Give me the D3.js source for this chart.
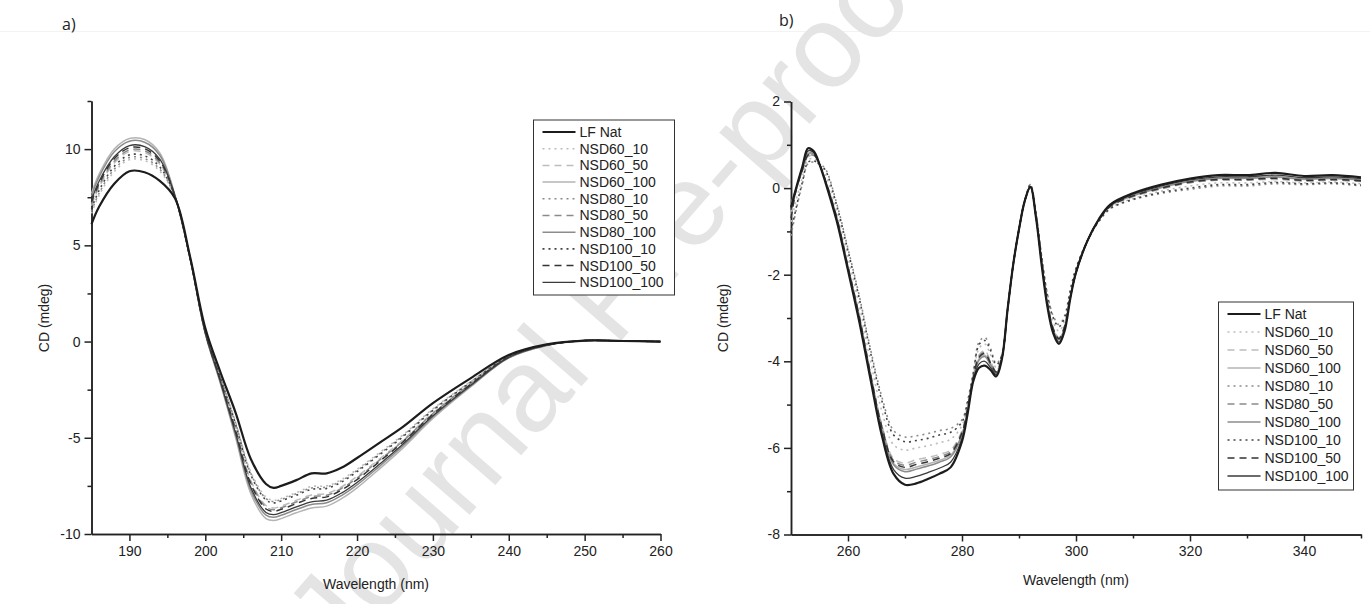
<!DOCTYPE html>
<html>
<head>
<meta charset="utf-8">
<script src="https://cdn.jsdelivr.net/npm/d3@7"></script>
<style>
  html, body { margin: 0; padding: 0; background: #fff; }
  svg { display: block; }
  text { font-family: "Liberation Sans", Arial, sans-serif; fill: #222; }
</style>
</head>
<body>
<svg id="chart" width="1370" height="604"></svg>
<script>
// ─────────────────────────────────────────────────────────────
//  Far-UV (a) and near-UV (b) CD spectra, LF native vs NSD treatments.
//  Values.
// ─────────────────────────────────────────────────────────────

const SERIES = ['LF Nat', 'NSD60_10', 'NSD60_50', 'NSD60_100', 'NSD80_10', 'NSD80_50',
  'NSD80_100', 'NSD100_10', 'NSD100_50', 'NSD100_100'];

// ---- panel a: far-UV ----
const WL_A = [185, 186, 188, 190, 192, 194, 196, 198, 200, 202, 204, 206, 208, 209, 210,
  212, 214, 216, 218, 220, 223, 226, 230, 235, 240, 245, 250, 255, 260];

const LF_NAT_A = [6.1, 7.0, 8.2, 8.85, 8.8, 8.35, 7.45, 4.4, 0.7, -1.6, -3.7, -6.1, -7.4, -7.6, -7.5,
  -7.2, -6.85, -6.85, -6.55, -6.05, -5.25, -4.45, -3.2, -1.9, -0.7, -0.15, 0.05, 0.03, 0.0];
const NSD60_10_A = [6.66, 7.6, 8.83, 9.45, 9.4, 8.86, 7.5, 4.36, 0.59, -1.83, -4.19, -6.78, -8.08, -8.25, -8.15,
  -7.85, -7.53, -7.5, -7.16, -6.64, -5.76, -4.87, -3.5, -2.07, -0.76, -0.17, 0.05, 0.03, 0.0];
const NSD60_50_A = [7.06, 8.02, 9.28, 9.87, 9.82, 9.22, 7.54, 4.34, 0.51, -1.97, -4.51, -7.22, -8.52, -8.65, -8.55,
  -8.25, -7.97, -7.9, -7.54, -7.01, -6.09, -5.13, -3.7, -2.18, -0.79, -0.18, 0.05, 0.03, 0.0];
const NSD60_100_A = [7.7, 8.7, 10.0, 10.55, 10.5, 9.8, 7.6, 4.3, 0.4, -2.2, -5.0, -7.9, -9.2, -9.3, -9.2,
  -8.9, -8.65, -8.55, -8.15, -7.6, -6.6, -5.55, -4.0, -2.35, -0.85, -0.2, 0.05, 0.03, 0.0];
const NSD80_10_A = [6.77, 7.71, 8.96, 9.56, 9.51, 8.96, 7.51, 4.36, 0.57, -1.85, -4.25, -6.86, -8.16, -8.31, -8.21,
  -7.91, -7.61, -7.56, -7.22, -6.7, -5.82, -4.91, -3.54, -2.09, -0.76, -0.17, 0.05, 0.03, 0.0];
const NSD80_50_A = [7.14, 8.11, 9.37, 9.96, 9.91, 9.29, 7.55, 4.33, 0.5, -2.0, -4.57, -7.31, -8.61, -8.74, -8.64,
  -8.34, -8.06, -7.99, -7.62, -7.09, -6.15, -5.19, -3.74, -2.2, -0.8, -0.18, 0.05, 0.03, 0.0];
const NSD80_100_A = [7.57, 8.56, 9.86, 10.41, 10.36, 9.68, 7.59, 4.31, 0.43, -2.14, -4.87, -7.72, -9.02, -9.13, -9.03,
  -8.73, -8.47, -8.38, -7.99, -7.45, -6.47, -5.44, -3.92, -2.31, -0.84, -0.2, 0.05, 0.03, 0.0];
const NSD100_10_A = [6.9, 7.85, 9.1, 9.7, 9.65, 9.08, 7.53, 4.35, 0.56, -1.88, -4.3, -6.93, -8.23, -8.38, -8.28,
  -7.98, -7.68, -7.63, -7.29, -6.76, -5.87, -4.96, -3.57, -2.11, -0.77, -0.17, 0.05, 0.03, 0.0];
const NSD100_50_A = [7.25, 8.22, 9.5, 10.07, 10.02, 9.39, 7.56, 4.33, 0.48, -2.03, -4.64, -7.4, -8.7, -8.82, -8.72,
  -8.42, -8.15, -8.07, -7.7, -7.17, -6.22, -5.24, -3.78, -2.22, -0.81, -0.19, 0.05, 0.03, 0.0];
const NSD100_100_A = [7.35, 8.33, 9.6, 10.18, 10.13, 9.48, 7.57, 4.32, 0.45, -2.09, -4.77, -7.58, -8.88, -8.99, -8.89,
  -8.59, -8.33, -8.24, -7.86, -7.32, -6.36, -5.35, -3.86, -2.27, -0.82, -0.19, 0.05, 0.03, 0.0];

// ---- panel b: near-UV ----
const WL_B = [250, 251, 252, 253, 254, 255, 256, 258, 260, 262, 264, 266, 268, 270, 272, 274, 276, 278, 280,
  281, 282, 283, 284, 285, 286, 287, 288, 289, 290, 291, 292, 293, 294, 295, 296, 297, 298, 299,
  300, 302, 304, 306, 310, 315, 320, 325, 330, 335, 340, 345, 350];

const LF_NAT_B = [-0.45, 0.05, 0.5, 0.92, 0.85, 0.55, 0.15, -0.75, -1.9, -3.1, -4.45, -5.75, -6.6, -6.85, -6.82, -6.72, -6.6, -6.45, -5.85,
  -5.2, -4.45, -4.15, -4.1, -4.2, -4.35, -3.95, -2.8, -1.75, -0.95, -0.3, 0.03, -0.7, -1.8, -2.75, -3.35, -3.6, -3.3, -2.55,
  -1.95, -1.22, -0.72, -0.38, -0.12, 0.08, 0.22, 0.3, 0.3, 0.35, 0.28, 0.3, 0.25];
const NSD60_10_B = [-0.78, -0.23, 0.25, 0.65, 0.68, 0.55, 0.33, -0.5, -1.6, -2.73, -4.03, -5.18, -5.93, -6.05, -6.0, -5.95, -5.88, -5.8, -5.48,
  -4.98, -4.3, -3.7, -3.6, -3.85, -4.14, -3.88, -2.8, -1.75, -0.95, -0.3, 0.06, -0.63, -1.65, -2.55, -3.09, -3.3, -3.07, -2.43,
  -1.9, -1.22, -0.76, -0.46, -0.24, -0.07, 0.05, 0.12, 0.12, 0.15, 0.12, 0.14, 0.1];
const NSD60_50_B = [-0.6, 0.0, 0.4, 0.72, 0.75, 0.55, 0.2, -0.65, -1.8, -2.95, -4.3, -5.5, -6.25, -6.35, -6.27, -6.22, -6.15, -6.05, -5.6,
  -5.05, -4.35, -3.85, -3.75, -4.0, -4.23, -3.9, -2.8, -1.75, -0.95, -0.3, 0.03, -0.65, -1.7, -2.65, -3.23, -3.45, -3.18, -2.5,
  -1.95, -1.22, -0.74, -0.43, -0.2, -0.02, 0.12, 0.18, 0.18, 0.2, 0.16, 0.18, 0.15];
const NSD60_100_B = [-0.55, 0.02, 0.43, 0.78, 0.78, 0.55, 0.19, -0.68, -1.83, -3.0, -4.35, -5.58, -6.36, -6.5, -6.44, -6.37, -6.29, -6.17, -5.68,
  -5.1, -4.38, -3.94, -3.86, -4.06, -4.27, -3.92, -2.8, -1.75, -0.95, -0.3, 0.03, -0.67, -1.73, -2.68, -3.27, -3.5, -3.22, -2.52,
  -1.95, -1.22, -0.73, -0.42, -0.18, 0.01, 0.15, 0.22, 0.22, 0.25, 0.2, 0.22, 0.18];
const NSD80_10_B = [-1.1, -0.45, 0.1, 0.57, 0.6, 0.55, 0.45, -0.35, -1.4, -2.5, -3.75, -4.85, -5.6, -5.75, -5.72, -5.67, -5.6, -5.55, -5.35,
  -4.9, -4.25, -3.55, -3.45, -3.7, -4.05, -3.85, -2.8, -1.75, -0.95, -0.3, 0.08, -0.6, -1.6, -2.45, -2.95, -3.15, -2.95, -2.35,
  -1.85, -1.22, -0.77, -0.48, -0.27, -0.12, -0.03, 0.05, 0.05, 0.1, 0.08, 0.1, 0.05];
const NSD80_50_B = [-0.5, 0.0, 0.41, 0.74, 0.76, 0.55, 0.2, -0.66, -1.81, -2.97, -4.32, -5.53, -6.29, -6.4, -6.33, -6.27, -6.2, -6.09, -5.63,
  -5.07, -4.36, -3.88, -3.79, -4.02, -4.24, -3.91, -2.8, -1.75, -0.95, -0.3, 0.03, -0.66, -1.71, -2.66, -3.24, -3.47, -3.19, -2.51,
  -1.95, -1.22, -0.74, -0.42, -0.19, -0.01, 0.13, 0.19, 0.19, 0.22, 0.17, 0.19, 0.16];
const NSD80_100_B = [-0.35, 0.02, 0.44, 0.8, 0.79, 0.55, 0.18, -0.69, -1.84, -3.01, -4.36, -5.6, -6.39, -6.55, -6.49, -6.42, -6.33, -6.21, -5.7,
  -5.11, -4.39, -3.97, -3.89, -4.08, -4.28, -3.92, -2.8, -1.75, -0.95, -0.3, 0.03, -0.67, -1.74, -2.69, -3.28, -3.51, -3.23, -2.52,
  -1.95, -1.22, -0.73, -0.41, -0.17, 0.02, 0.16, 0.23, 0.23, 0.26, 0.21, 0.23, 0.19];
const NSD100_10_B = [-1.0, -0.4, 0.14, 0.6, 0.63, 0.55, 0.42, -0.39, -1.45, -2.56, -3.82, -4.94, -5.7, -5.86, -5.83, -5.78, -5.7, -5.64, -5.4,
  -4.93, -4.27, -3.61, -3.52, -3.75, -4.08, -3.86, -2.8, -1.75, -0.95, -0.3, 0.08, -0.61, -1.62, -2.48, -2.99, -3.2, -2.99, -2.37,
  -1.86, -1.22, -0.77, -0.47, -0.26, -0.1, 0.0, 0.08, 0.08, 0.13, 0.1, 0.12, 0.07];
const NSD100_50_B = [-0.7, 0.01, 0.42, 0.76, 0.77, 0.55, 0.19, -0.67, -1.82, -2.98, -4.33, -5.55, -6.32, -6.45, -6.38, -6.32, -6.24, -6.13, -5.65,
  -5.08, -4.37, -3.91, -3.82, -4.04, -4.25, -3.91, -2.8, -1.75, -0.95, -0.3, 0.03, -0.66, -1.72, -2.67, -3.25, -3.48, -3.2, -2.51,
  -1.95, -1.22, -0.74, -0.42, -0.18, 0.0, 0.14, 0.2, 0.2, 0.23, 0.18, 0.2, 0.17];
const NSD100_100_B = [-0.5, 0.04, 0.47, 0.86, 0.82, 0.55, 0.17, -0.72, -1.87, -3.06, -4.41, -5.68, -6.5, -6.7, -6.66, -6.57, -6.47, -6.33, -5.78,
  -5.16, -4.42, -4.06, -4.0, -4.14, -4.31, -3.94, -2.8, -1.75, -0.95, -0.3, 0.03, -0.69, -1.77, -2.72, -3.31, -3.56, -3.26, -2.54,
  -1.95, -1.22, -0.73, -0.4, -0.14, 0.05, 0.19, 0.26, 0.26, 0.3, 0.24, 0.26, 0.22];

const VALUES_A = [LF_NAT_A, NSD60_10_A, NSD60_50_A, NSD60_100_A, NSD80_10_A, NSD80_50_A, NSD80_100_A, NSD100_10_A, NSD100_50_A, NSD100_100_A];
const VALUES_B = [LF_NAT_B, NSD60_10_B, NSD60_50_B, NSD60_100_B, NSD80_10_B, NSD80_50_B, NSD80_100_B, NSD100_10_B, NSD100_50_B, NSD100_100_B];

// line look per series: grey level by temperature, dash by dose
const STYLE = {
  'LF Nat':     { color: '#1c1c1c', width: 2.2, dash: null },
  'NSD60_10':   { color: '#bdbdbd', width: 1.6, dash: '2,4' },
  'NSD60_50':   { color: '#bdbdbd', width: 1.5, dash: '7,5' },
  'NSD60_100':  { color: '#b4b4b4', width: 1.5, dash: null },
  'NSD80_10':   { color: '#8a8a8a', width: 1.6, dash: '2,4' },
  'NSD80_50':   { color: '#8a8a8a', width: 1.5, dash: '7,5' },
  'NSD80_100':  { color: '#8c8c8c', width: 1.5, dash: null },
  'NSD100_10':  { color: '#444444', width: 1.6, dash: '2,4' },
  'NSD100_50':  { color: '#333333', width: 1.5, dash: '7,5' },
  'NSD100_100': { color: '#3a3a3a', width: 1.3, dash: null },
};

const svg = d3.select('#chart');

// watermark + faint page edge, behind everything
svg.append('line').attr('x1', 0).attr('x2', 1370).attr('y1', 31.5).attr('y2', 31.5)
  .attr('stroke', '#f3f3f3').attr('stroke-width', 1);
svg.append('text')
  .attr('transform', 'translate(615,300) rotate(-49)')
  .attr('text-anchor', 'middle').attr('dominant-baseline', 'middle')
  .style('font-size', '118px').style('fill', '#e4e4e4')
  .text('Journal Pre-proof');

function panel(opt) {
  const { x, y } = opt;
  const g = svg.append('g');

  // axes: major + minor ticks pointing out, no box
  const fmt = (d) => String(d);
  const xMajor = d3.axisBottom(x).tickValues(opt.xMajor).tickFormat(fmt).tickSize(7).tickSizeOuter(0).tickPadding(5);
  const xMinor = d3.axisBottom(x).tickValues(opt.xMinor).tickFormat('').tickSize(4).tickSizeOuter(0);
  const yMajor = d3.axisLeft(y).tickValues(opt.yMajor).tickFormat(fmt).tickSize(7).tickSizeOuter(0).tickPadding(4);
  const yMinor = d3.axisLeft(y).tickValues(opt.yMinor).tickFormat('').tickSize(4).tickSizeOuter(0);

  const y0 = y.range()[0], x0 = x.range()[0];
  [[xMajor, `translate(0,${y0})`], [xMinor, `translate(0,${y0})`],
   [yMajor, `translate(${x0},0)`], [yMinor, `translate(${x0},0)`]].forEach(([ax, tr]) => {
    const a = g.append('g').attr('transform', tr).call(ax);
    a.selectAll('path.domain').attr('stroke', '#222').attr('stroke-width', 1.5);
    a.selectAll('.tick line').attr('stroke', '#222').attr('stroke-width', 1.5);
    a.selectAll('.tick text').style('font-size', '14px').style('font-family', '"Liberation Sans", Arial, sans-serif').attr('fill', '#222');
  });

  // spectra — treatments first, native on top
  const line = d3.line().x((d) => x(d[0])).y((d) => y(d[1])).curve(d3.curveCatmullRom.alpha(0.5));
  const order = SERIES.slice(1).concat(SERIES[0]);
  order.forEach((name) => {
    const vals = opt.values[SERIES.indexOf(name)];
    const s = STYLE[name];
    g.append('path')
      .datum(opt.wl.map((w, i) => [w, vals[i]]))
      .attr('d', line)
      .attr('fill', 'none')
      .attr('stroke', s.color)
      .attr('stroke-width', s.width)
      .attr('stroke-dasharray', s.dash)
      .attr('stroke-linejoin', 'round');
  });

  // axis titles
  g.append('text').attr('x', opt.xTitle[0]).attr('y', opt.xTitle[1])
    .attr('text-anchor', 'middle').style('font-size', '14px').text('Wavelength (nm)');
  g.append('text').attr('transform', `translate(${opt.yTitle[0]},${opt.yTitle[1]}) rotate(-90)`)
    .attr('text-anchor', 'middle').style('font-size', '14px').text('CD (mdeg)');

  // legend
  const L = opt.legend;
  const lg = g.append('g').attr('transform', `translate(${L.x},${L.y})`);
  lg.append('rect').attr('width', L.w).attr('height', L.step * SERIES.length + 8)
    .attr('fill', '#fff').attr('stroke', '#333').attr('stroke-width', 1);
  SERIES.forEach((name, i) => {
    const s = STYLE[name];
    const cy = 12 + i * L.step;
    lg.append('line').attr('x1', 9).attr('x2', 42).attr('y1', cy).attr('y2', cy)
      .attr('stroke', s.color).attr('stroke-width', s.width).attr('stroke-dasharray', s.dash);
    lg.append('text').attr('x', 46).attr('y', cy).attr('dy', '0.35em')
      .style('font-size', '14px').text(name);
  });

  g.append('text').attr('x', opt.tag[0]).attr('y', opt.tag[1])
    .style('font-family', '"Open Sans", sans-serif').style('font-size', '16px').text(opt.tag[2]);
}

panel({
  x: d3.scaleLinear().domain([185, 260]).range([91.5, 660.5]),
  y: d3.scaleLinear().domain([-10, 12.5]).range([534, 101]),
  xMajor: d3.range(190, 261, 10), xMinor: d3.range(195, 260, 10),
  yMajor: [-10, -5, 0, 5, 10], yMinor: [-7.5, -2.5, 2.5, 7.5, 12.5],
  wl: WL_A, values: VALUES_A,
  xTitle: [376, 589], yTitle: [49, 318],
  legend: { x: 533.5, y: 120, w: 141, step: 16.7 },
  tag: [62, 30, 'a)'],
});

panel({
  x: d3.scaleLinear().domain([250, 350]).range([791, 1361]),
  y: d3.scaleLinear().domain([-8, 2]).range([534.5, 101.5]),
  xMajor: d3.range(260, 341, 20), xMinor: d3.range(270, 351, 20),
  yMajor: [-8, -6, -4, -2, 0, 2], yMinor: [-7, -5, -3, -1, 1],
  wl: WL_B, values: VALUES_B,
  xTitle: [1076, 585], yTitle: [728, 318],
  legend: { x: 1218.5, y: 302, w: 135, step: 18 },
  tag: [779, 26, 'b)'],
});
</script>
</body>
</html>
